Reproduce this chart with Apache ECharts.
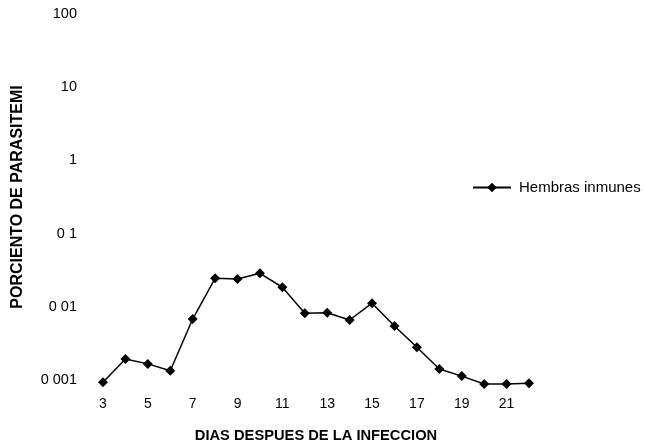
<!DOCTYPE html>
<html><head><meta charset="utf-8">
<script src="https://cdn.jsdelivr.net/npm/echarts@6/dist/echarts.min.js"></script>
<style>html,body{margin:0;padding:0;background:#fff}#c{width:646px;height:444px}</style>
</head><body><div id="c"></div>
<script>
const days = ['3','4','5','6','7','8','9','10','11','12','13','14','15','16','17','18','19','20','21','22'];
const hembrasInmunes = [0.00093,0.00194,0.00166,0.00134,0.0068,0.0245,0.0240,0.0287,0.0185,0.00815,0.0083,0.0066,0.0112,0.00547,0.0028,0.00141,0.00113,0.00088,0.00088,0.00090];
const yTickLabels = {'100':'100','10':'10','1':'1','0.1':'0 1','0.01':'0 01','0.001':'0 001'};
const seriesName = 'Hembras inmunes';
const xTitle = 'DIAS DESPUES DE LA INFECCION';
const yTitle = 'PORCIENTO DE PARASITEMI';

const chart = echarts.init(document.getElementById('c'));
const font = 'Liberation Sans, Arial, sans-serif';
chart.setOption({
  animation:false,
  textStyle:{fontFamily:font},
  grid:{left:103,right:117,top:14,bottom:64,containLabel:false,outerBoundsMode:'none'},
  legend:{
    left:472, top:180, padding:0, data:[seriesName], itemWidth:38, itemHeight:12, itemGap:0,
    textStyle:{fontFamily:font,fontSize:15,color:'#000',padding:[0,0,0,3]}
  },
  xAxis:{
    type:'category', data:days, boundaryGap:false,
    axisLine:{show:false}, axisTick:{show:false}, splitLine:{show:false},
    axisLabel:{interval:1,color:'#000',fontSize:14,margin:17,fontFamily:font},
    name:xTitle, nameLocation:'middle', nameGap:48,
    nameTextStyle:{color:'#000',fontSize:14.7,fontWeight:'bold',fontFamily:font}
  },
  yAxis:{
    type:'log', logBase:10, min:0.001, max:100,
    axisLine:{show:false}, axisTick:{show:false}, splitLine:{show:false},
    axisLabel:{color:'#000',fontSize:14.5,margin:26,fontFamily:font,
      formatter:function(v){
        const k = String(+v.toPrecision(3));
        return yTickLabels[k] !== undefined ? yTickLabels[k] : '';
      }},
    name:yTitle, nameLocation:'middle', nameGap:77, nameRotate:90,
    nameTextStyle:{color:'#000',fontSize:16,fontWeight:'bold',fontFamily:font}
  },
  series:[{
    name:seriesName, type:'line', data:hembrasInmunes, clip:false,
    symbol:'diamond', symbolSize:10,
    lineStyle:{color:'#000',width:1.5},
    itemStyle:{color:'#000'}
  }]
});
</script></body></html>
